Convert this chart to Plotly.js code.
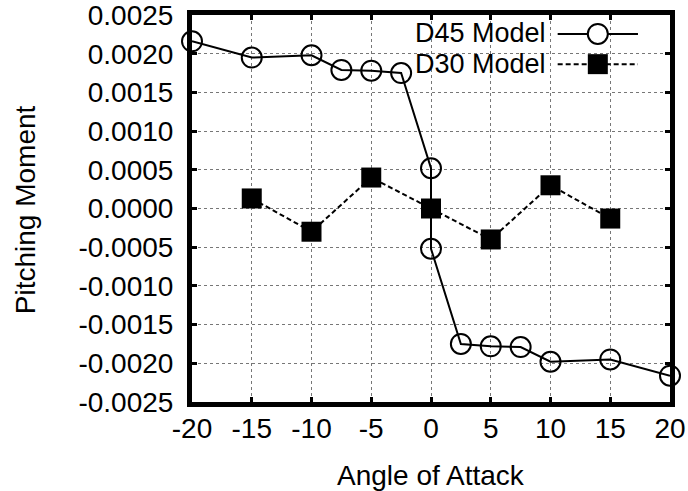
<!DOCTYPE html>
<html>
<head>
<meta charset="utf-8">
<script src="https://cdn.plot.ly/plotly-3.0.1.min.js"></script>
<style>
  html, body { margin: 0; padding: 0; background: #fff; }
  #chart { width: 688px; height: 491px; }
</style>
</head>
<body>
<div id="chart"></div>
<script>
// Pitching moment vs. angle of attack for two model geometries
const angleD45  = [-20, -15, -10, -7.5, -5, -2.5, 0, 0, 2.5, 5, 7.5, 10, 15, 20];
const momentD45 = [0.00216, 0.00195, 0.00198, 0.00179, 0.00178, 0.00175, 0.00052,
                   -0.00052, -0.00175, -0.00178, -0.00179, -0.00198, -0.00195, -0.00216];

const angleD30  = [-15, -10, -5, 0, 5, 10, 15];
const momentD30 = [0.00013, -0.0003, 0.0004, 0.0, -0.0004, 0.0003, -0.00013];

const seriesNames = ['D45 Model', 'D30 Model'];
const xTitle = 'Angle of Attack';
const yTitle = 'Pitching Moment';

const xTickVals = [-20, -15, -10, -5, 0, 5, 10, 15, 20];
const xTickText = ['-20', '-15', '-10', '-5', '0', '5', '10', '15', '20'];
const yTickVals = [0.0025, 0.002, 0.0015, 0.001, 0.0005, 0, -0.0005, -0.001, -0.0015, -0.002, -0.0025];
const yTickText = ['0.0025', '0.0020', '0.0015', '0.0010', '0.0005', '0.0000',
                   '-0.0005', '-0.0010', '-0.0015', '-0.0020', '-0.0025'];

const FONT = '"Liberation Sans", Arial, Helvetica, sans-serif';
const FS = 28;
const textFont = { family: FONT, size: FS, color: '#000' };
const legendFont = { family: FONT, size: 27, color: '#000' };

const traces = [
  {
    x: angleD30, y: momentD30, name: seriesNames[1],
    type: 'scatter', mode: 'lines+markers', cliponaxis: false,
    line: { color: '#000', width: 2, dash: '5px,3px' },
    marker: { symbol: 'square', size: 20, color: '#000', line: { width: 0 } }
  },
  {
    x: angleD45, y: momentD45, name: seriesNames[0],
    type: 'scatter', mode: 'lines+markers', cliponaxis: false,
    line: { color: '#000', width: 2 },
    marker: { symbol: 'circle-open', size: 20, color: '#000', line: { width: 2, color: '#000' } }
  }
];

const axisCommon = {
  showline: true, linewidth: 5, linecolor: '#000', mirror: 'ticks',
  ticks: 'inside', ticklen: 5, tickwidth: 3, tickcolor: '#000',
  showgrid: true, gridcolor: '#777', gridwidth: 1, griddash: 'dot',
  zeroline: false, tickmode: 'array', automargin: false,
  ticklabeloverflow: 'allow', tickfont: textFont
};

// Legend: label on the left, line/marker sample on the right
const legendRows = [
  { y: 0.951, textY: 0.9535, dash: 'solid', marker: 'circle' },
  { y: 0.873, textY: 0.8734, dash: '5px,3px', marker: 'square' }
];
const shapes = [
  { type: 'rect', xref: 'paper', yref: 'paper', x0: 0.408, x1: 0.97, y0: 0.84, y1: 1,
    fillcolor: '#fff', line: { width: 0 }, layer: 'between' }
];
const annotations = [];
legendRows.forEach((row, i) => {
  shapes.push({ type: 'line', xref: 'paper', yref: 'paper', x0: 0.765, x1: 0.933, y0: row.y, y1: row.y,
    line: { color: '#000', width: 2, dash: row.dash }, layer: 'above' });
  if (row.marker === 'circle') {
    shapes.push({ type: 'circle', xref: 'paper', yref: 'paper', xsizemode: 'pixel', ysizemode: 'pixel',
      xanchor: 0.849, yanchor: row.y, x0: -10, x1: 10, y0: -10, y1: 10,
      fillcolor: '#fff', line: { color: '#000', width: 2 }, layer: 'above' });
  } else {
    shapes.push({ type: 'rect', xref: 'paper', yref: 'paper', xsizemode: 'pixel', ysizemode: 'pixel',
      xanchor: 0.849, yanchor: row.y, x0: -10, x1: 10, y0: -10, y1: 10,
      fillcolor: '#000', line: { width: 0 }, layer: 'above' });
  }
  annotations.push({ xref: 'paper', yref: 'paper', x: 0.745, y: row.textY, xanchor: 'right', yanchor: 'middle',
    text: seriesNames[i], showarrow: false, font: legendFont });
});

// Axis titles
annotations.push({ xref: 'paper', yref: 'paper', x: 0.5, y: -0.19, xanchor: 'center', yanchor: 'middle',
  text: xTitle, showarrow: false, font: textFont });
annotations.push({ xref: 'paper', yref: 'paper', x: -0.349, y: 0.496, xanchor: 'center', yanchor: 'middle',
  textangle: -90, text: yTitle, showarrow: false, font: textFont });

const layout = {
  width: 688, height: 491,
  margin: { l: 192, r: 18, t: 15, b: 89 },
  paper_bgcolor: '#fff', plot_bgcolor: '#fff',
  showlegend: false,
  font: textFont,
  xaxis: Object.assign({}, axisCommon, {
    range: [-20, 20], tickvals: xTickVals, ticktext: xTickText, ticklabelstandoff: -3
  }),
  yaxis: Object.assign({}, axisCommon, {
    range: [-0.0025, 0.0025], tickvals: yTickVals, ticktext: yTickText, ticklabelstandoff: 8
  }),
  shapes: shapes,
  annotations: annotations
};

Plotly.newPlot('chart', traces, layout, { staticPlot: true, displayModeBar: false });
</script>
</body>
</html>
